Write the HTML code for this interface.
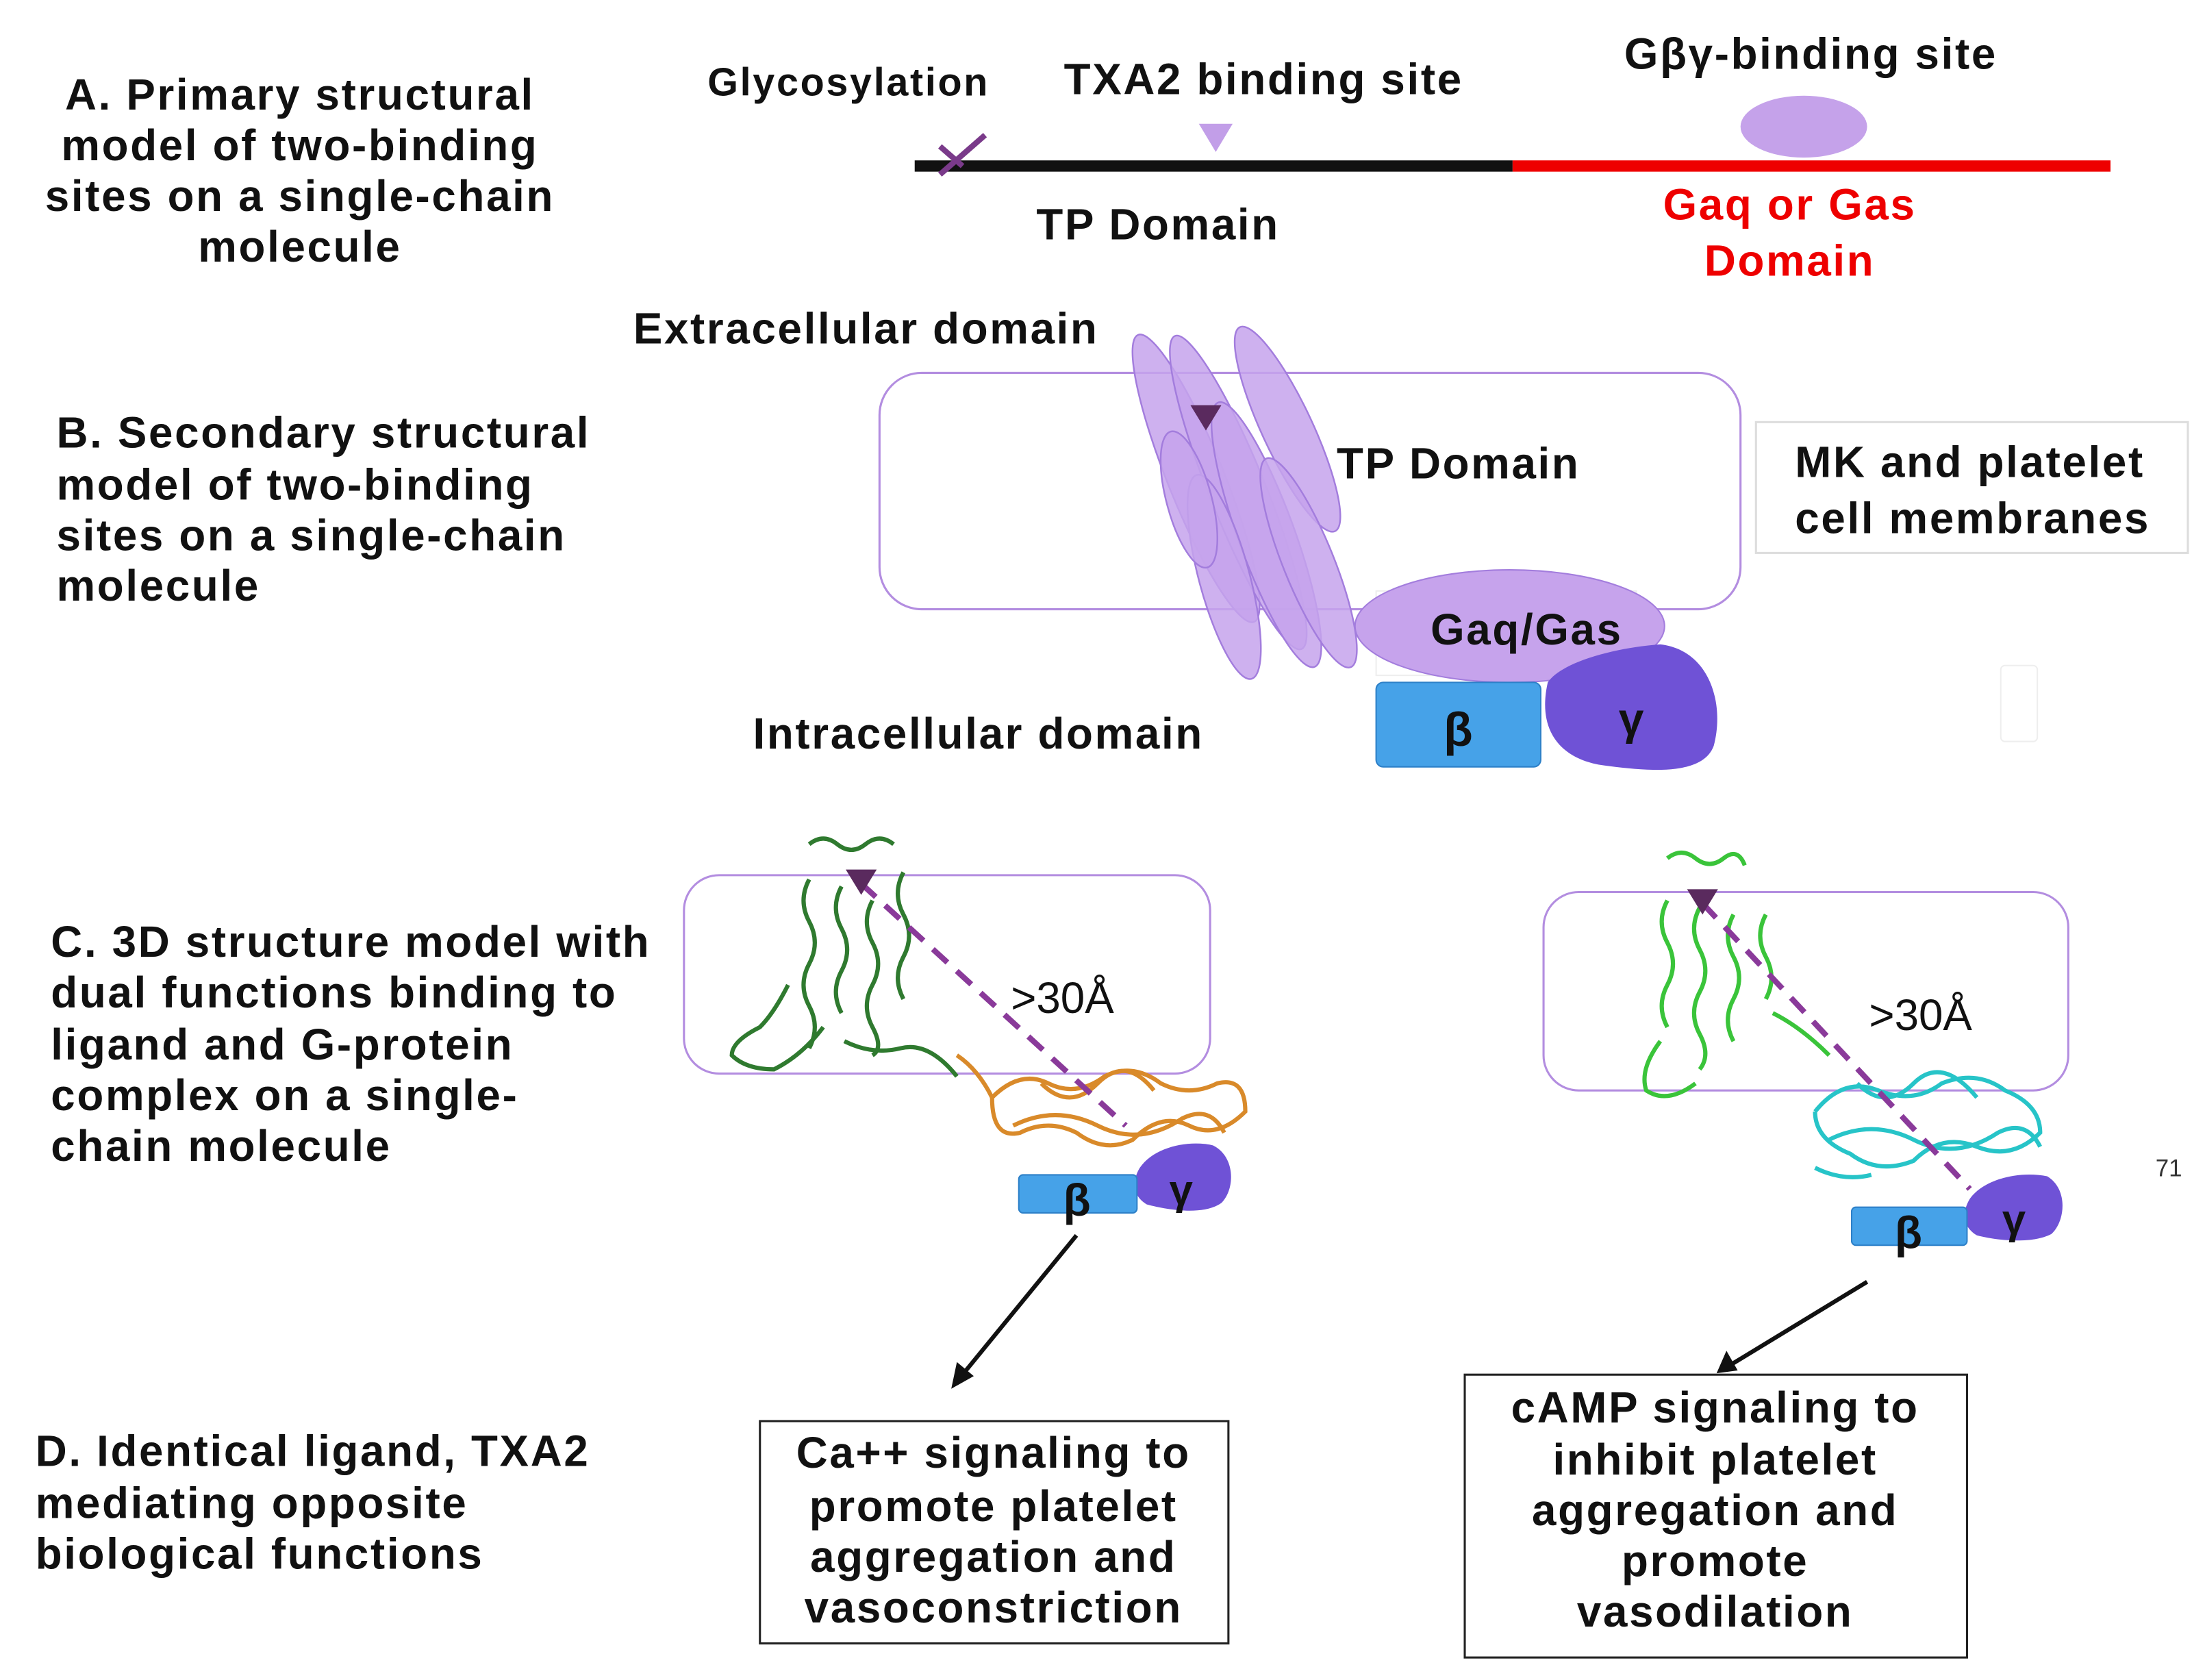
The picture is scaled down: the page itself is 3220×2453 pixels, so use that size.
<!DOCTYPE html>
<html><head><meta charset="utf-8"><style>
html,body{margin:0;padding:0;background:#fff}
svg{display:block}
text{font-family:"Liberation Sans",sans-serif}
.b{font-weight:bold;font-size:31px;fill:#111;letter-spacing:1.3px}
</style></head><body>
<svg width="3220" height="2453" viewBox="0 0 1567 1194" xmlns="http://www.w3.org/2000/svg">
<rect width="1567" height="1194" fill="#fff"/>
<!-- A -->
<g class="b" text-anchor="middle">
<text x="213" y="78" class="b">A. Primary structural</text>
<text x="213" y="114" class="b">model of two-binding</text>
<text x="213" y="150" class="b">sites on a single-chain</text>
<text x="213" y="186" class="b">molecule</text>
</g>
<text x="603" y="68" class="b" text-anchor="middle" style="font-size:28px">Glycosylation</text>
<text x="898" y="67" class="b" text-anchor="middle" style="font-size:31px">TXA2 binding site</text>
<text x="1287" y="49" class="b" text-anchor="middle" style="font-size:31px">Gβγ-binding site</text>
<rect x="650" y="114" width="425" height="8" fill="#111"/>
<rect x="1075" y="114" width="425" height="8" fill="#e00"/>
<path d="M668 124 L700 96" stroke="#7a3a8a" stroke-width="4"/>
<path d="M668 104 L684 118" stroke="#7a3a8a" stroke-width="4"/>
<polygon points="852,88 876,88 864,108" fill="#c29ee8"/>
<ellipse cx="1282" cy="90" rx="45" ry="22" fill="#c5a2ea"/>
<text x="823" y="170" class="b" text-anchor="middle">TP Domain</text>
<text x="1272" y="156" class="b" text-anchor="middle" style="fill:#e00">Gaq or Gas</text>
<text x="1272" y="196" class="b" text-anchor="middle" style="fill:#e00">Domain</text>
<!-- B -->
<text x="40" y="318" class="b">B. Secondary structural</text>
<text x="40" y="355" class="b">model of two-binding</text>
<text x="40" y="391" class="b">sites on a single-chain</text>
<text x="40" y="427" class="b">molecule</text>
<text x="450" y="244" class="b">Extracellular domain</text>
<rect x="625" y="265" width="612" height="168" rx="30" fill="none" stroke="#b38de0" stroke-width="1.5"/>
<rect x="978" y="420" width="185" height="60" fill="none" stroke="#eee" stroke-width="1"/>
<g fill="#c6a3ec" fill-opacity="0.85" stroke="#a37ddd" stroke-width="1.2">
<ellipse cx="850" cy="340" rx="20" ry="110" transform="rotate(-22 850 340)"/>
<ellipse cx="880" cy="350" rx="20" ry="120" transform="rotate(-22 880 350)"/>
<ellipse cx="915" cy="305" rx="18" ry="80" transform="rotate(-25 915 305)"/>
<ellipse cx="900" cy="380" rx="20" ry="100" transform="rotate(-20 900 380)"/>
<ellipse cx="930" cy="400" rx="18" ry="80" transform="rotate(-22 930 400)"/>
<ellipse cx="870" cy="410" rx="18" ry="75" transform="rotate(-15 870 410)"/>
<ellipse cx="845" cy="355" rx="16" ry="50" transform="rotate(-15 845 355)"/>
</g>
<polygon points="846,288 868,288 857,306" fill="#5a2a5e"/>
<text x="950" y="340" class="b">TP Domain</text>
<rect x="1248" y="300" width="307" height="93" fill="#fff" stroke="#ddd" stroke-width="1.5"/>
<text x="1400" y="339" class="b" text-anchor="middle">MK and platelet</text>
<text x="1402" y="379" class="b" text-anchor="middle">cell membranes</text>
<ellipse cx="1073" cy="445" rx="110" ry="40" fill="#c6a3ec" stroke="#a37ddd" stroke-width="1"/>
<text x="1085" y="458" class="b" text-anchor="middle">Gaq/Gas</text>
<path d="M1100 485 C1110 470 1150 460 1180 458 C1215 462 1226 500 1218 530 C1210 552 1170 548 1140 544 C1110 540 1092 520 1100 485Z" fill="#6f52d6"/>
<rect x="978" y="485" width="117" height="60" rx="5" fill="#46a2e8" stroke="#2d80c8"/>
<text x="1037" y="530" class="b" text-anchor="middle" style="font-size:34px">β</text>
<text x="1160" y="522" class="b" text-anchor="middle" style="font-size:32px">γ</text>
<rect x="1422" y="473" width="26" height="54" rx="3" fill="none" stroke="#eee"/>
<text x="535" y="532" class="b">Intracellular domain</text>
<!-- C -->
<text x="36" y="680" class="b">C. 3D structure model with</text>
<text x="36" y="716" class="b">dual functions binding to</text>
<text x="36" y="753" class="b">ligand and G-protein</text>
<text x="36" y="789" class="b">complex on a single-</text>
<text x="36" y="825" class="b">chain molecule</text>
<rect x="486" y="622" width="374" height="141" rx="25" fill="none" stroke="#b38de0" stroke-width="1.5"/>
<rect x="1097" y="634" width="373" height="141" rx="25" fill="none" stroke="#b38de0" stroke-width="1.5"/>
<g fill="none" stroke="#2f7a2f" stroke-width="3">
<path d="M575 600 q10 -8 20 0 q10 8 20 0 q10 -8 20 0"/>
<path d="M575 625 q-8 15 0 30 q8 15 0 30 q-8 15 0 30 q8 15 0 30"/>
<path d="M598 630 q-8 15 0 30 q8 15 0 30 q-8 15 0 30"/>
<path d="M620 640 q-8 15 0 30 q8 15 0 30 q-8 15 0 30 q8 15 0 20"/>
<path d="M642 620 q-8 15 0 30 q8 15 0 30 q-8 15 0 30"/>
<path d="M560 700 q-10 20 -20 30 q-20 10 -20 20 q10 10 30 10 q20 -10 35 -30"/>
<path d="M600 740 q20 10 40 5 q20 -5 40 20"/>
</g>
<g fill="none" stroke="#d98a2a" stroke-width="3">
<path d="M705 780 q20 -20 40 -10 q20 10 40 -5 q20 -10 40 5 q20 10 40 0 q20 -5 20 20 q-20 20 -40 10 q-20 -10 -40 10 q-20 10 -40 -5 q-20 -10 -40 0 q-20 5 -20 -25"/>
<path d="M720 800 q30 -15 60 0 q30 15 60 -5 q20 -10 30 10"/>
<path d="M740 770 q20 20 40 0 q20 -20 40 5"/>
<path d="M680 750 q15 10 25 30"/>
</g>
<g fill="none" stroke="#3ac43a" stroke-width="3">
<path d="M1185 610 q10 -8 20 0 q10 8 20 0 q10 -8 15 5"/>
<path d="M1185 640 q-8 15 0 30 q8 15 0 30 q-8 15 0 30"/>
<path d="M1208 645 q-8 15 0 30 q8 15 0 30 q-8 15 0 30 q8 15 0 25"/>
<path d="M1232 650 q-8 15 0 30 q8 15 0 30 q-8 15 0 30"/>
<path d="M1255 650 q-8 15 0 30 q8 15 0 30"/>
<path d="M1180 740 q-15 20 -10 35 q15 10 35 -5"/>
<path d="M1260 720 q20 10 40 30"/>
</g>
<g fill="none" stroke="#27c4c8" stroke-width="3">
<path d="M1290 790 q20 -25 45 -15 q25 10 45 -5 q25 -10 45 5 q25 10 25 30 q-20 20 -45 10 q-25 -10 -45 10 q-25 10 -45 -5 q-25 -10 -25 -30"/>
<path d="M1300 810 q30 -15 60 0 q30 15 60 -5 q20 -10 30 10"/>
<path d="M1320 770 q20 20 40 0 q20 -20 45 10"/>
<path d="M1290 830 q20 10 40 5"/>
</g>
<line x1="612" y1="628" x2="800" y2="800" stroke="#8a3a9a" stroke-width="4" stroke-dasharray="14,9"/>
<line x1="1210" y1="642" x2="1400" y2="845" stroke="#8a3a9a" stroke-width="4" stroke-dasharray="14,9"/>
<polygon points="601,618 623,618 612,636" fill="#5a2a5e"/>
<polygon points="1199,632 1221,632 1210,650" fill="#5a2a5e"/>
<text x="755" y="720" text-anchor="middle" font-size="31" fill="#111">&gt;30Å</text>
<text x="1365" y="732" text-anchor="middle" font-size="31" fill="#111">&gt;30Å</text>
<path d="M810 830 C820 815 845 810 862 814 C878 822 878 845 868 855 C855 864 830 860 815 856 C805 850 804 840 810 830Z" fill="#6f52d6"/>
<rect x="724" y="835" width="84" height="27" rx="3" fill="#46a2e8" stroke="#2d80c8"/>
<text x="766" y="864" class="b" text-anchor="middle" style="font-size:32px">β</text>
<text x="840" y="856" class="b" text-anchor="middle" style="font-size:30px">γ</text>
<path d="M1400 852 C1410 838 1435 832 1455 836 C1470 845 1468 868 1458 877 C1445 884 1420 882 1405 878 C1395 872 1394 862 1400 852Z" fill="#6f52d6"/>
<rect x="1316" y="858" width="82" height="27" rx="3" fill="#46a2e8" stroke="#2d80c8"/>
<text x="1357" y="887" class="b" text-anchor="middle" style="font-size:32px">β</text>
<text x="1432" y="877" class="b" text-anchor="middle" style="font-size:30px">γ</text>
<text x="1532" y="836" font-size="17" fill="#333">71</text>
<g stroke="#111" stroke-width="3">
<line x1="765" y1="878" x2="684" y2="977"/>
<line x1="1327" y1="911" x2="1230" y2="970"/>
</g>
<polygon points="676,987 680,968 692,978" fill="#111"/>
<polygon points="1220,976 1227,960 1235,974" fill="#111"/>
<text x="25" y="1042" class="b">D. Identical ligand, TXA2</text>
<text x="25" y="1079" class="b">mediating opposite</text>
<text x="25" y="1115" class="b">biological functions</text>
<rect x="540" y="1010" width="333" height="158" fill="#fff" stroke="#222" stroke-width="1.5"/>
<g text-anchor="middle">
<text x="706" y="1043" class="b">Ca++ signaling to</text>
<text x="706" y="1081" class="b">promote platelet</text>
<text x="706" y="1117" class="b">aggregation and</text>
<text x="706" y="1153" class="b">vasoconstriction</text>
</g>
<rect x="1041" y="977" width="357" height="201" fill="#fff" stroke="#222" stroke-width="1.5"/>
<g text-anchor="middle">
<text x="1219" y="1011" class="b">cAMP signaling to</text>
<text x="1219" y="1048" class="b">inhibit platelet</text>
<text x="1219" y="1084" class="b">aggregation and</text>
<text x="1219" y="1120" class="b">promote</text>
<text x="1219" y="1156" class="b">vasodilation</text>
</g>
</svg>
</body></html>
